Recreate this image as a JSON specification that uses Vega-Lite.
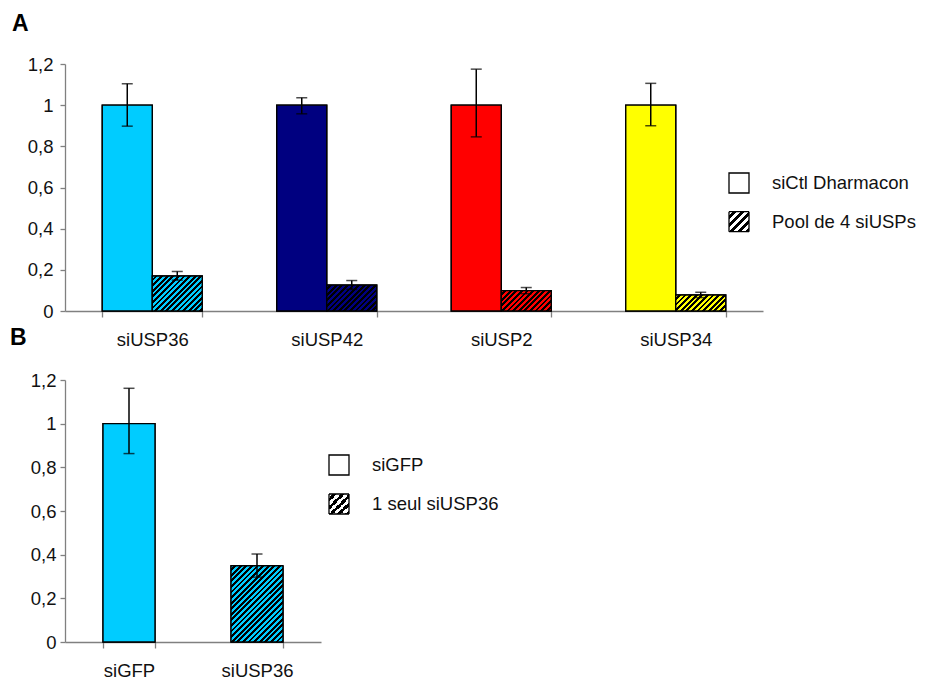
{
  "$schema": "https://vega.github.io/schema/vega-lite/v6.json",
  "padding": {"left": 10, "top": 13, "right": 5, "bottom": 5},
  "bounds": "flush",
  "spacing": 69,
  "config": {
    "view": {"stroke": null},
    "font": "Liberation Sans",
    "axis": {"domainColor": "#808080", "tickColor": "#808080", "domainWidth": 1.3, "tickWidth": 1.3, "labelFont": "Liberation Sans", "labelFontSize": 18.5, "labelColor": "#111111", "grid": false, "title": null},
    "legend": {"labelFont": "Liberation Sans", "labelFontSize": 18.5, "labelColor": "#111111", "symbolType": "square", "symbolSize": 400, "symbolStrokeWidth": 1.3, "labelOffset": 22, "padding": 0, "title": null},
    "title": {"font": "Liberation Sans", "fontSize": 23, "fontWeight": "bold", "color": "#000000", "anchor": "start", "frame": "group"}
  },
  "resolve": {"scale": {"x": "independent", "y": "independent", "stroke": "independent", "strokeDash": "independent", "xOffset": "independent"}, "legend": {"stroke": "independent", "strokeDash": "independent"}},
  "vconcat": [
    {
      "title": {"text": "A", "dx": -53, "offset": 19},
      "width": 698,
      "height": 247,
      "data": {"values": [
        {"gene": "siUSP36", "series": "siCtl Dharmacon", "value": 1, "lo": 0.898, "hi": 1.104},
        {"gene": "siUSP36", "series": "Pool de 4 siUSPs", "value": 0.17, "lo": 0.15, "hi": 0.192},
        {"gene": "siUSP42", "series": "siCtl Dharmacon", "value": 1, "lo": 0.958, "hi": 1.036},
        {"gene": "siUSP42", "series": "Pool de 4 siUSPs", "value": 0.126, "lo": 0.105, "hi": 0.148},
        {"gene": "siUSP2", "series": "siCtl Dharmacon", "value": 1, "lo": 0.846, "hi": 1.175},
        {"gene": "siUSP2", "series": "Pool de 4 siUSPs", "value": 0.099, "lo": 0.084, "hi": 0.114},
        {"gene": "siUSP34", "series": "siCtl Dharmacon", "value": 1, "lo": 0.9, "hi": 1.106},
        {"gene": "siUSP34", "series": "Pool de 4 siUSPs", "value": 0.078, "lo": 0.065, "hi": 0.091}
      ]},
      "encoding": {
        "x": {"field": "gene", "type": "nominal", "sort": ["siUSP36", "siUSP42", "siUSP2", "siUSP34"], "scale": {"paddingInner": 0.4269, "paddingOuter": 0.2135}, "axis": {"tickBand": "extent", "tickSize": 6, "labelPadding": 13, "labelAngle": 0}},
        "xOffset": {"field": "series", "type": "nominal", "sort": ["siCtl Dharmacon", "Pool de 4 siUSPs"], "scale": {"paddingInner": 0, "paddingOuter": 0}}
      },
      "layer": [
        {
          "transform": [{"filter": "datum.series === 'siCtl Dharmacon'"}],
          "mark": {"type": "bar", "fill": "#ffffff", "strokeWidth": 1.3},
          "encoding": {
            "y": {"field": "value", "type": "quantitative"},
            "stroke": {"field": "series", "type": "nominal", "scale": {"domain": ["siCtl Dharmacon"], "range": ["#000000"]},
              "legend": {"orient": "none", "legendX": 663, "legendY": 108}}
          }
        },
        {
          "transform": [{"filter": "datum.series === 'Pool de 4 siUSPs'"}],
          "mark": {"type": "bar", "stroke": "#000000", "strokeWidth": 1.3, "fill": {"gradient": "linear", "x1": 0, "y1": 0, "x2": 1, "y2": 1, "stops": [
            {"offset": 0, "color": "#ffffff"}, {"offset": 0.1, "color": "#ffffff"}, {"offset": 0.1, "color": "#000"}, {"offset": 0.2, "color": "#000"},
            {"offset": 0.2, "color": "#ffffff"}, {"offset": 0.3, "color": "#ffffff"}, {"offset": 0.3, "color": "#000"}, {"offset": 0.4, "color": "#000"},
            {"offset": 0.4, "color": "#ffffff"}, {"offset": 0.5, "color": "#ffffff"}, {"offset": 0.5, "color": "#000"}, {"offset": 0.6, "color": "#000"},
            {"offset": 0.6, "color": "#ffffff"}, {"offset": 0.7, "color": "#ffffff"}, {"offset": 0.7, "color": "#000"}, {"offset": 0.8, "color": "#000"},
            {"offset": 0.8, "color": "#ffffff"}, {"offset": 0.9, "color": "#ffffff"}, {"offset": 0.9, "color": "#000"}, {"offset": 1, "color": "#000"}
          ]}},
          "encoding": {
            "y": {"field": "value", "type": "quantitative"},
            "strokeDash": {"field": "series", "type": "nominal", "scale": {"domain": ["Pool de 4 siUSPs"], "range": [[1, 0]]},
              "legend": {"orient": "none", "legendX": 663, "legendY": 146.7}}
          }
        },
        {
          "mark": {"type": "bar", "stroke": "#000000", "strokeWidth": 1.4},
          "encoding": {
            "y": {"field": "value", "type": "quantitative", "scale": {"domain": [0, 1.2]}, "axis": {"values": [0, 0.2, 0.4, 0.6, 0.8, 1, 1.2], "tickSize": 5, "labelPadding": 7, "labelExpr": "replace(format(datum.value, '~g'), '.', ',')"}},
            "fill": {
              "condition": [
                {"test": "datum.series === 'Pool de 4 siUSPs' && datum.gene === 'siUSP36'", "value": {"gradient": "linear", "x1": 0, "y1": 0, "x2": 1.5034, "y2": 1.0523, "stops": [
                  {"offset": 0, "color": "#00ccff"}, {"offset": 0.025, "color": "#00ccff"}, {"offset": 0.025, "color": "#000"}, {"offset": 0.05, "color": "#000"},
                  {"offset": 0.05, "color": "#00ccff"}, {"offset": 0.075, "color": "#00ccff"}, {"offset": 0.075, "color": "#000"}, {"offset": 0.1, "color": "#000"},
                  {"offset": 0.1, "color": "#00ccff"}, {"offset": 0.125, "color": "#00ccff"}, {"offset": 0.125, "color": "#000"}, {"offset": 0.15, "color": "#000"},
                  {"offset": 0.15, "color": "#00ccff"}, {"offset": 0.175, "color": "#00ccff"}, {"offset": 0.175, "color": "#000"}, {"offset": 0.2, "color": "#000"},
                  {"offset": 0.2, "color": "#00ccff"}, {"offset": 0.225, "color": "#00ccff"}, {"offset": 0.225, "color": "#000"}, {"offset": 0.25, "color": "#000"},
                  {"offset": 0.25, "color": "#00ccff"}, {"offset": 0.275, "color": "#00ccff"}, {"offset": 0.275, "color": "#000"}, {"offset": 0.3, "color": "#000"},
                  {"offset": 0.3, "color": "#00ccff"}, {"offset": 0.325, "color": "#00ccff"}, {"offset": 0.325, "color": "#000"}, {"offset": 0.35, "color": "#000"},
                  {"offset": 0.35, "color": "#00ccff"}, {"offset": 0.375, "color": "#00ccff"}, {"offset": 0.375, "color": "#000"}, {"offset": 0.4, "color": "#000"},
                  {"offset": 0.4, "color": "#00ccff"}, {"offset": 0.425, "color": "#00ccff"}, {"offset": 0.425, "color": "#000"}, {"offset": 0.45, "color": "#000"},
                  {"offset": 0.45, "color": "#00ccff"}, {"offset": 0.475, "color": "#00ccff"}, {"offset": 0.475, "color": "#000"}, {"offset": 0.5, "color": "#000"},
                  {"offset": 0.5, "color": "#00ccff"}, {"offset": 0.525, "color": "#00ccff"}, {"offset": 0.525, "color": "#000"}, {"offset": 0.55, "color": "#000"},
                  {"offset": 0.55, "color": "#00ccff"}, {"offset": 0.575, "color": "#00ccff"}, {"offset": 0.575, "color": "#000"}, {"offset": 0.6, "color": "#000"},
                  {"offset": 0.6, "color": "#00ccff"}, {"offset": 0.625, "color": "#00ccff"}, {"offset": 0.625, "color": "#000"}, {"offset": 0.65, "color": "#000"},
                  {"offset": 0.65, "color": "#00ccff"}, {"offset": 0.675, "color": "#00ccff"}, {"offset": 0.675, "color": "#000"}, {"offset": 0.7, "color": "#000"},
                  {"offset": 0.7, "color": "#00ccff"}, {"offset": 0.725, "color": "#00ccff"}, {"offset": 0.725, "color": "#000"}, {"offset": 0.75, "color": "#000"},
                  {"offset": 0.75, "color": "#00ccff"}, {"offset": 0.775, "color": "#00ccff"}, {"offset": 0.775, "color": "#000"}, {"offset": 0.8, "color": "#000"}
                ]}},
                {"test": "datum.series === 'Pool de 4 siUSPs' && datum.gene === 'siUSP42'", "value": {"gradient": "linear", "x1": 0, "y1": 0, "x2": 1.7661, "y2": 0.9148, "stops": [
                  {"offset": 0, "color": "#000080"}, {"offset": 0.025, "color": "#000080"}, {"offset": 0.025, "color": "#000"}, {"offset": 0.05, "color": "#000"},
                  {"offset": 0.05, "color": "#000080"}, {"offset": 0.075, "color": "#000080"}, {"offset": 0.075, "color": "#000"}, {"offset": 0.1, "color": "#000"},
                  {"offset": 0.1, "color": "#000080"}, {"offset": 0.125, "color": "#000080"}, {"offset": 0.125, "color": "#000"}, {"offset": 0.15, "color": "#000"},
                  {"offset": 0.15, "color": "#000080"}, {"offset": 0.175, "color": "#000080"}, {"offset": 0.175, "color": "#000"}, {"offset": 0.2, "color": "#000"},
                  {"offset": 0.2, "color": "#000080"}, {"offset": 0.225, "color": "#000080"}, {"offset": 0.225, "color": "#000"}, {"offset": 0.25, "color": "#000"},
                  {"offset": 0.25, "color": "#000080"}, {"offset": 0.275, "color": "#000080"}, {"offset": 0.275, "color": "#000"}, {"offset": 0.3, "color": "#000"},
                  {"offset": 0.3, "color": "#000080"}, {"offset": 0.325, "color": "#000080"}, {"offset": 0.325, "color": "#000"}, {"offset": 0.35, "color": "#000"},
                  {"offset": 0.35, "color": "#000080"}, {"offset": 0.375, "color": "#000080"}, {"offset": 0.375, "color": "#000"}, {"offset": 0.4, "color": "#000"},
                  {"offset": 0.4, "color": "#000080"}, {"offset": 0.425, "color": "#000080"}, {"offset": 0.425, "color": "#000"}, {"offset": 0.45, "color": "#000"},
                  {"offset": 0.45, "color": "#000080"}, {"offset": 0.475, "color": "#000080"}, {"offset": 0.475, "color": "#000"}, {"offset": 0.5, "color": "#000"},
                  {"offset": 0.5, "color": "#000080"}, {"offset": 0.525, "color": "#000080"}, {"offset": 0.525, "color": "#000"}, {"offset": 0.55, "color": "#000"},
                  {"offset": 0.55, "color": "#000080"}, {"offset": 0.575, "color": "#000080"}, {"offset": 0.575, "color": "#000"}, {"offset": 0.6, "color": "#000"},
                  {"offset": 0.6, "color": "#000080"}, {"offset": 0.625, "color": "#000080"}, {"offset": 0.625, "color": "#000"}, {"offset": 0.65, "color": "#000"},
                  {"offset": 0.65, "color": "#000080"}, {"offset": 0.675, "color": "#000080"}, {"offset": 0.675, "color": "#000"}, {"offset": 0.7, "color": "#000"},
                  {"offset": 0.7, "color": "#000080"}, {"offset": 0.725, "color": "#000080"}, {"offset": 0.725, "color": "#000"}, {"offset": 0.75, "color": "#000"}
                ]}},
                {"test": "datum.series === 'Pool de 4 siUSPs' && datum.gene === 'siUSP2'", "value": {"gradient": "linear", "x1": 0, "y1": 0, "x2": 1.9203, "y2": 0.7835, "stops": [
                  {"offset": 0, "color": "#ff0000"}, {"offset": 0.025, "color": "#ff0000"}, {"offset": 0.025, "color": "#000"}, {"offset": 0.05, "color": "#000"},
                  {"offset": 0.05, "color": "#ff0000"}, {"offset": 0.075, "color": "#ff0000"}, {"offset": 0.075, "color": "#000"}, {"offset": 0.1, "color": "#000"},
                  {"offset": 0.1, "color": "#ff0000"}, {"offset": 0.125, "color": "#ff0000"}, {"offset": 0.125, "color": "#000"}, {"offset": 0.15, "color": "#000"},
                  {"offset": 0.15, "color": "#ff0000"}, {"offset": 0.175, "color": "#ff0000"}, {"offset": 0.175, "color": "#000"}, {"offset": 0.2, "color": "#000"},
                  {"offset": 0.2, "color": "#ff0000"}, {"offset": 0.225, "color": "#ff0000"}, {"offset": 0.225, "color": "#000"}, {"offset": 0.25, "color": "#000"},
                  {"offset": 0.25, "color": "#ff0000"}, {"offset": 0.275, "color": "#ff0000"}, {"offset": 0.275, "color": "#000"}, {"offset": 0.3, "color": "#000"},
                  {"offset": 0.3, "color": "#ff0000"}, {"offset": 0.325, "color": "#ff0000"}, {"offset": 0.325, "color": "#000"}, {"offset": 0.35, "color": "#000"},
                  {"offset": 0.35, "color": "#ff0000"}, {"offset": 0.375, "color": "#ff0000"}, {"offset": 0.375, "color": "#000"}, {"offset": 0.4, "color": "#000"},
                  {"offset": 0.4, "color": "#ff0000"}, {"offset": 0.425, "color": "#ff0000"}, {"offset": 0.425, "color": "#000"}, {"offset": 0.45, "color": "#000"},
                  {"offset": 0.45, "color": "#ff0000"}, {"offset": 0.475, "color": "#ff0000"}, {"offset": 0.475, "color": "#000"}, {"offset": 0.5, "color": "#000"},
                  {"offset": 0.5, "color": "#ff0000"}, {"offset": 0.525, "color": "#ff0000"}, {"offset": 0.525, "color": "#000"}, {"offset": 0.55, "color": "#000"},
                  {"offset": 0.55, "color": "#ff0000"}, {"offset": 0.575, "color": "#ff0000"}, {"offset": 0.575, "color": "#000"}, {"offset": 0.6, "color": "#000"},
                  {"offset": 0.6, "color": "#ff0000"}, {"offset": 0.625, "color": "#ff0000"}, {"offset": 0.625, "color": "#000"}, {"offset": 0.65, "color": "#000"},
                  {"offset": 0.65, "color": "#ff0000"}, {"offset": 0.675, "color": "#ff0000"}, {"offset": 0.675, "color": "#000"}, {"offset": 0.7, "color": "#000"}
                ]}},
                {"test": "datum.series === 'Pool de 4 siUSPs' && datum.gene === 'siUSP34'", "value": {"gradient": "linear", "x1": 0, "y1": 0, "x2": 2.0296, "y2": 0.6535, "stops": [
                  {"offset": 0, "color": "#ffff00"}, {"offset": 0.025, "color": "#ffff00"}, {"offset": 0.025, "color": "#000"}, {"offset": 0.05, "color": "#000"},
                  {"offset": 0.05, "color": "#ffff00"}, {"offset": 0.075, "color": "#ffff00"}, {"offset": 0.075, "color": "#000"}, {"offset": 0.1, "color": "#000"},
                  {"offset": 0.1, "color": "#ffff00"}, {"offset": 0.125, "color": "#ffff00"}, {"offset": 0.125, "color": "#000"}, {"offset": 0.15, "color": "#000"},
                  {"offset": 0.15, "color": "#ffff00"}, {"offset": 0.175, "color": "#ffff00"}, {"offset": 0.175, "color": "#000"}, {"offset": 0.2, "color": "#000"},
                  {"offset": 0.2, "color": "#ffff00"}, {"offset": 0.225, "color": "#ffff00"}, {"offset": 0.225, "color": "#000"}, {"offset": 0.25, "color": "#000"},
                  {"offset": 0.25, "color": "#ffff00"}, {"offset": 0.275, "color": "#ffff00"}, {"offset": 0.275, "color": "#000"}, {"offset": 0.3, "color": "#000"},
                  {"offset": 0.3, "color": "#ffff00"}, {"offset": 0.325, "color": "#ffff00"}, {"offset": 0.325, "color": "#000"}, {"offset": 0.35, "color": "#000"},
                  {"offset": 0.35, "color": "#ffff00"}, {"offset": 0.375, "color": "#ffff00"}, {"offset": 0.375, "color": "#000"}, {"offset": 0.4, "color": "#000"},
                  {"offset": 0.4, "color": "#ffff00"}, {"offset": 0.425, "color": "#ffff00"}, {"offset": 0.425, "color": "#000"}, {"offset": 0.45, "color": "#000"},
                  {"offset": 0.45, "color": "#ffff00"}, {"offset": 0.475, "color": "#ffff00"}, {"offset": 0.475, "color": "#000"}, {"offset": 0.5, "color": "#000"},
                  {"offset": 0.5, "color": "#ffff00"}, {"offset": 0.525, "color": "#ffff00"}, {"offset": 0.525, "color": "#000"}, {"offset": 0.55, "color": "#000"},
                  {"offset": 0.55, "color": "#ffff00"}, {"offset": 0.575, "color": "#ffff00"}, {"offset": 0.575, "color": "#000"}, {"offset": 0.6, "color": "#000"},
                  {"offset": 0.6, "color": "#ffff00"}, {"offset": 0.625, "color": "#ffff00"}, {"offset": 0.625, "color": "#000"}, {"offset": 0.65, "color": "#000"}
                ]}},
                {"test": "datum.gene === 'siUSP36'", "value": "#00ccff"},
                {"test": "datum.gene === 'siUSP42'", "value": "#000080"},
                {"test": "datum.gene === 'siUSP2'", "value": "#ff0000"}
              ],
              "value": "#ffff00"
            }
          }
        },
        {
          "mark": {"type": "rule", "strokeWidth": 1.5, "color": "#000000"},
          "encoding": {"y": {"field": "lo", "type": "quantitative"}, "y2": {"field": "hi"}}
        },
        {
          "mark": {"type": "tick", "size": 11, "thickness": 1.5, "color": "#000000"},
          "encoding": {"y": {"field": "lo", "type": "quantitative"}}
        },
        {
          "mark": {"type": "tick", "size": 11, "thickness": 1.5, "color": "#000000"},
          "encoding": {"y": {"field": "hi", "type": "quantitative"}}
        }
      ]
    },
    {
      "title": {"text": "B", "dx": -55, "offset": 21},
      "width": 256,
      "height": 262,
      "data": {"values": [
        {"gene": "siGFP", "series": "siGFP", "value": 1, "lo": 0.863, "hi": 1.162},
        {"gene": "siUSP36", "series": "1 seul siUSP36", "value": 0.349, "lo": 0.297, "hi": 0.403}
      ]},
      "encoding": {
        "x": {"field": "gene", "type": "nominal", "sort": ["siGFP", "siUSP36"], "scale": {"paddingInner": 0.59375, "paddingOuter": 0.296875}, "axis": {"tickBand": "extent", "tickSize": 6, "labelPadding": 13, "labelAngle": 0}}
      },
      "layer": [
        {
          "transform": [{"filter": "datum.series === 'siGFP'"}],
          "mark": {"type": "bar", "fill": "#ffffff", "strokeWidth": 1.3},
          "encoding": {
            "y": {"field": "value", "type": "quantitative"},
            "stroke": {"field": "series", "type": "nominal", "scale": {"domain": ["siGFP"], "range": ["#000000"]},
              "legend": {"orient": "none", "legendX": 263, "legendY": 74}}
          }
        },
        {
          "transform": [{"filter": "datum.series === '1 seul siUSP36'"}],
          "mark": {"type": "bar", "stroke": "#000000", "strokeWidth": 1.3, "fill": {"gradient": "linear", "x1": 0, "y1": 0, "x2": 1, "y2": 1, "stops": [
            {"offset": 0, "color": "#ffffff"}, {"offset": 0.1, "color": "#ffffff"}, {"offset": 0.1, "color": "#000"}, {"offset": 0.2, "color": "#000"},
            {"offset": 0.2, "color": "#ffffff"}, {"offset": 0.3, "color": "#ffffff"}, {"offset": 0.3, "color": "#000"}, {"offset": 0.4, "color": "#000"},
            {"offset": 0.4, "color": "#ffffff"}, {"offset": 0.5, "color": "#ffffff"}, {"offset": 0.5, "color": "#000"}, {"offset": 0.6, "color": "#000"},
            {"offset": 0.6, "color": "#ffffff"}, {"offset": 0.7, "color": "#ffffff"}, {"offset": 0.7, "color": "#000"}, {"offset": 0.8, "color": "#000"},
            {"offset": 0.8, "color": "#ffffff"}, {"offset": 0.9, "color": "#ffffff"}, {"offset": 0.9, "color": "#000"}, {"offset": 1, "color": "#000"}
          ]}},
          "encoding": {
            "y": {"field": "value", "type": "quantitative"},
            "strokeDash": {"field": "series", "type": "nominal", "scale": {"domain": ["1 seul siUSP36"], "range": [[1, 0]]},
              "legend": {"orient": "none", "legendX": 263, "legendY": 113}}
          }
        },
        {
          "mark": {"type": "bar", "stroke": "#000000", "strokeWidth": 1.4},
          "encoding": {
            "y": {"field": "value", "type": "quantitative", "scale": {"domain": [0, 1.2]}, "axis": {"values": [0, 0.2, 0.4, 0.6, 0.8, 1, 1.2], "tickSize": 5, "labelPadding": 4, "labelExpr": "replace(format(datum.value, '~g'), '.', ',')"}},
            "fill": {"condition": {"test": "datum.series === '1 seul siUSP36'", "value": {"gradient": "linear", "x1": 0, "y1": 0, "x2": 0.8554, "y2": 1.2535, "stops": [
              {"offset": 0, "color": "#00ccff"}, {"offset": 0.02, "color": "#00ccff"}, {"offset": 0.02, "color": "#000"}, {"offset": 0.04, "color": "#000"},
              {"offset": 0.04, "color": "#00ccff"}, {"offset": 0.06, "color": "#00ccff"}, {"offset": 0.06, "color": "#000"}, {"offset": 0.08, "color": "#000"},
              {"offset": 0.08, "color": "#00ccff"}, {"offset": 0.1, "color": "#00ccff"}, {"offset": 0.1, "color": "#000"}, {"offset": 0.12, "color": "#000"},
              {"offset": 0.12, "color": "#00ccff"}, {"offset": 0.14, "color": "#00ccff"}, {"offset": 0.14, "color": "#000"}, {"offset": 0.16, "color": "#000"},
              {"offset": 0.16, "color": "#00ccff"}, {"offset": 0.18, "color": "#00ccff"}, {"offset": 0.18, "color": "#000"}, {"offset": 0.2, "color": "#000"},
              {"offset": 0.2, "color": "#00ccff"}, {"offset": 0.22, "color": "#00ccff"}, {"offset": 0.22, "color": "#000"}, {"offset": 0.24, "color": "#000"},
              {"offset": 0.24, "color": "#00ccff"}, {"offset": 0.26, "color": "#00ccff"}, {"offset": 0.26, "color": "#000"}, {"offset": 0.28, "color": "#000"},
              {"offset": 0.28, "color": "#00ccff"}, {"offset": 0.3, "color": "#00ccff"}, {"offset": 0.3, "color": "#000"}, {"offset": 0.32, "color": "#000"},
              {"offset": 0.32, "color": "#00ccff"}, {"offset": 0.34, "color": "#00ccff"}, {"offset": 0.34, "color": "#000"}, {"offset": 0.36, "color": "#000"},
              {"offset": 0.36, "color": "#00ccff"}, {"offset": 0.38, "color": "#00ccff"}, {"offset": 0.38, "color": "#000"}, {"offset": 0.4, "color": "#000"},
              {"offset": 0.4, "color": "#00ccff"}, {"offset": 0.42, "color": "#00ccff"}, {"offset": 0.42, "color": "#000"}, {"offset": 0.44, "color": "#000"},
              {"offset": 0.44, "color": "#00ccff"}, {"offset": 0.46, "color": "#00ccff"}, {"offset": 0.46, "color": "#000"}, {"offset": 0.48, "color": "#000"},
              {"offset": 0.48, "color": "#00ccff"}, {"offset": 0.5, "color": "#00ccff"}, {"offset": 0.5, "color": "#000"}, {"offset": 0.52, "color": "#000"},
              {"offset": 0.52, "color": "#00ccff"}, {"offset": 0.54, "color": "#00ccff"}, {"offset": 0.54, "color": "#000"}, {"offset": 0.56, "color": "#000"},
              {"offset": 0.56, "color": "#00ccff"}, {"offset": 0.58, "color": "#00ccff"}, {"offset": 0.58, "color": "#000"}, {"offset": 0.6, "color": "#000"},
              {"offset": 0.6, "color": "#00ccff"}, {"offset": 0.62, "color": "#00ccff"}, {"offset": 0.62, "color": "#000"}, {"offset": 0.64, "color": "#000"},
              {"offset": 0.64, "color": "#00ccff"}, {"offset": 0.66, "color": "#00ccff"}, {"offset": 0.66, "color": "#000"}, {"offset": 0.68, "color": "#000"},
              {"offset": 0.68, "color": "#00ccff"}, {"offset": 0.7, "color": "#00ccff"}, {"offset": 0.7, "color": "#000"}, {"offset": 0.72, "color": "#000"},
              {"offset": 0.72, "color": "#00ccff"}, {"offset": 0.74, "color": "#00ccff"}, {"offset": 0.74, "color": "#000"}, {"offset": 0.76, "color": "#000"},
              {"offset": 0.76, "color": "#00ccff"}, {"offset": 0.78, "color": "#00ccff"}, {"offset": 0.78, "color": "#000"}, {"offset": 0.8, "color": "#000"},
              {"offset": 0.8, "color": "#00ccff"}, {"offset": 0.82, "color": "#00ccff"}, {"offset": 0.82, "color": "#000"}, {"offset": 0.84, "color": "#000"},
              {"offset": 0.84, "color": "#00ccff"}, {"offset": 0.86, "color": "#00ccff"}, {"offset": 0.86, "color": "#000"}, {"offset": 0.88, "color": "#000"},
              {"offset": 0.88, "color": "#00ccff"}, {"offset": 0.9, "color": "#00ccff"}, {"offset": 0.9, "color": "#000"}, {"offset": 0.92, "color": "#000"},
              {"offset": 0.92, "color": "#00ccff"}, {"offset": 0.94, "color": "#00ccff"}, {"offset": 0.94, "color": "#000"}, {"offset": 0.96, "color": "#000"}
            ]}}, "value": "#00ccff"}
          }
        },
        {
          "mark": {"type": "rule", "strokeWidth": 1.5, "color": "#000000"},
          "encoding": {"y": {"field": "lo", "type": "quantitative"}, "y2": {"field": "hi"}}
        },
        {
          "mark": {"type": "tick", "size": 11, "thickness": 1.5, "color": "#000000"},
          "encoding": {"y": {"field": "lo", "type": "quantitative"}}
        },
        {
          "mark": {"type": "tick", "size": 11, "thickness": 1.5, "color": "#000000"},
          "encoding": {"y": {"field": "hi", "type": "quantitative"}}
        }
      ]
    }
  ]
}
